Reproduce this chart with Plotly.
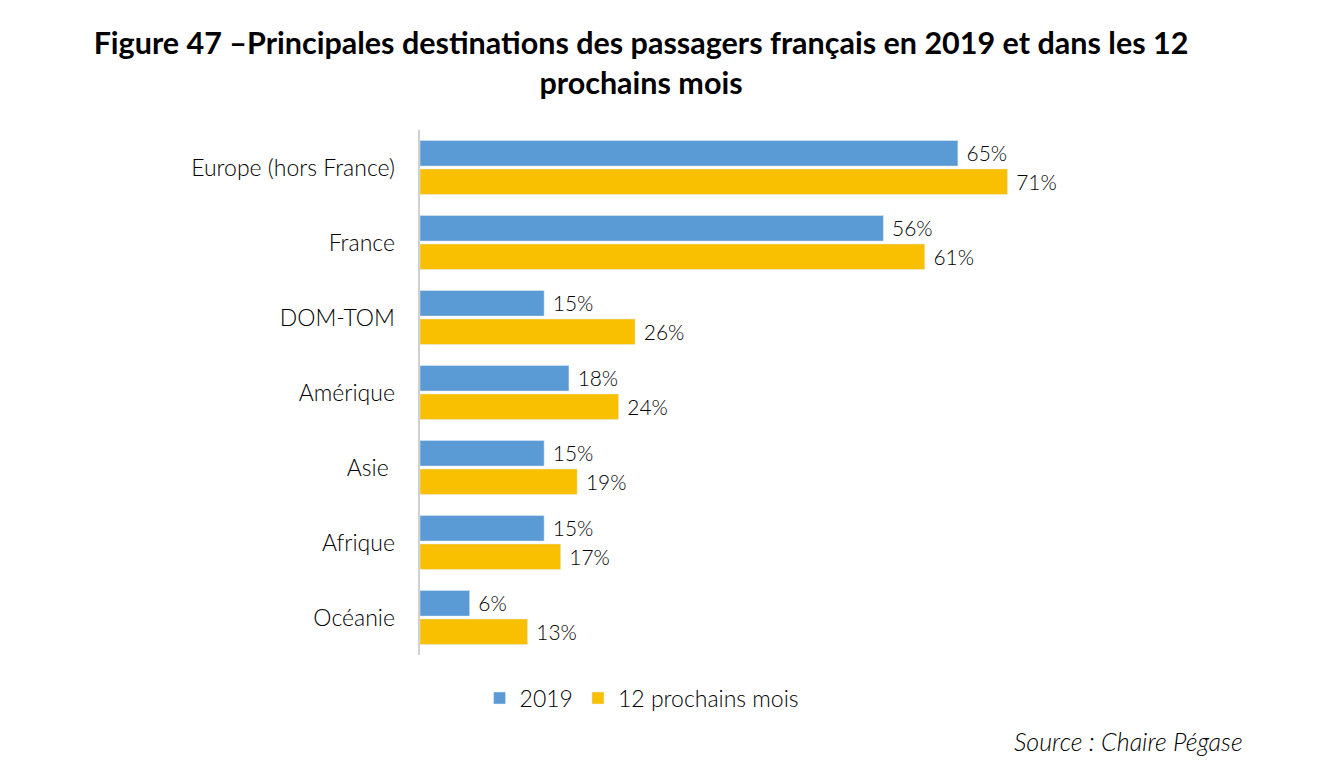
import plotly.graph_objects as go

categories = ["Europe (hors France)", "France", "DOM-TOM", "Amérique", "Asie ", "Afrique", "Océanie"]
values_2019 = [65, 56, 15, 18, 15, 15, 6]
values_12m = [71, 61, 26, 24, 19, 17, 13]

FONT = "Lato, 'Open Sans', sans-serif"

fig = go.Figure()
for name, vals, color in [
    ("2019", values_2019, "#5B9BD5"),
    ("12 prochains mois", values_12m, "#F8C000"),
]:
    fig.add_bar(
        y=categories,
        x=vals,
        orientation="h",
        name=name,
        marker_color=color,
        text=[f" {v}%" for v in vals],
        textposition="outside",
        textfont=dict(size=22, color="#000", weight=300),
        cliponaxis=False,
    )

# page body adds an 8px offset, margins compensate for it
fig.update_layout(
    width=1342,
    height=774,
    barmode="group",
    bargap=0.24,
    bargroupgap=0.1,
    plot_bgcolor="white",
    paper_bgcolor="white",
    font=dict(family=FONT, size=20, color="#000"),
    margin={"t": 122, "b": 127, "l": 412, "r": 268, "autoexpand": False},
    title=dict(
        text="<b>Figure 47 –Principales destinations des passagers français en 2019 et dans les 12<br>prochains mois</b>",
        x=0.4717,
        xanchor="center",
        y=0.94,
        yanchor="top",
        yref="container",
        font=dict(size=30.5, color="#000"),
        automargin=False,
    ),
    legend=dict(
        orientation="h",
        x=0.09,
        xanchor="left",
        y=-0.082,
        yanchor="middle",
        font=dict(size=23, weight=300),
        traceorder="normal",
        itemwidth=30,
    ),
    showlegend=True,
)

fig.update_xaxes(
    range=[0, 80],
    showticklabels=False,
    showgrid=False,
    zeroline=False,
    showline=False,
    automargin=False,
)
fig.update_yaxes(
    autorange="reversed",
    showgrid=False,
    showline=True,
    linecolor="#d0d0d0",
    linewidth=1.5,
    ticks="",
    ticksuffix="   ",
    tickfont=dict(size=23, weight=300, color="#000"),
    automargin=False,
)

fig.add_annotation(
    xref="paper",
    yref="paper",
    x=1.246,
    y=-0.164,
    xanchor="right",
    yanchor="middle",
    text="<i>Source : Chaire Pégase</i>",
    showarrow=False,
    font=dict(size=25, color="#000", weight=300),
)

fig.write_html("out.html")
